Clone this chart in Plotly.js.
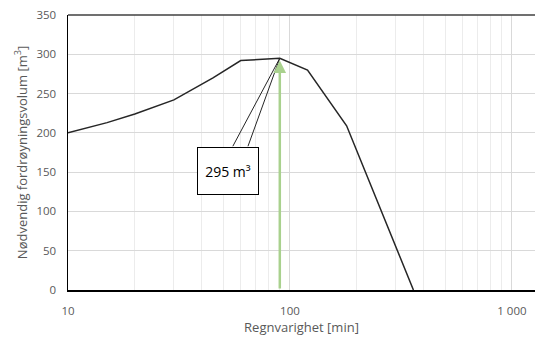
<!DOCTYPE html>
<html><head><meta charset="utf-8">
<script src="https://cdn.plot.ly/plotly-3.0.1.min.js"></script>
<style>html,body{margin:0;padding:0;background:#fff}#c{width:535px;height:338px}</style>
</head><body><div id="c"></div>
<script>
var durations = [10, 15, 20, 30, 45, 60, 90, 120, 180, 360];
var volumes = [200, 213, 224, 242, 270, 292, 295, 280, 209, 0];
var peakX = 90, peakY = 295;
var labelText = "295 m³";
var labelX = 52.6, labelY = 152;
var calloutX = [55.3, 90, 64.7];
var calloutY = [183, 295, 183];
var majorTicks = [10, 100, 1000];
var majorText = ["10", "100", "1 000"];
var minorTicks = [20,30,40,50,60,70,80,90,200,300,400,500,600,700,800,900];
var yTicks = [0,50,100,150,200,250,300,350];

var fontFam = "'Open Sans', 'Liberation Sans', sans-serif";
var traces = [
  {x: durations, y: volumes, mode: 'lines', line: {color: '#262626', width: 1.5}, hoverinfo: 'skip'},
  {x: calloutX, y: calloutY, mode: 'lines', line: {color: '#262626', width: 1}, hoverinfo: 'skip'}
];
var layout = {
  width: 535, height: 338,
  margin: {l: 68, r: 0, t: 15, b: 48},
  showlegend: false,
  paper_bgcolor: '#fff', plot_bgcolor: '#fff',
  font: {family: fontFam, size: 11.5, color: '#595959'},
  xaxis: {
    type: 'log', range: [1, 3.104],
    tickmode: 'array', tickvals: majorTicks, ticktext: majorText,
    showgrid: true, gridcolor: '#d9d9d9', gridwidth: 1,
    minor: {tickmode: 'array', tickvals: minorTicks, showgrid: true, gridcolor: '#ececec', gridwidth: 1, ticks: ''},
    showline: true, linecolor: '#000', linewidth: 1.5, mirror: false,
    ticks: '', zeroline: false, ticklabelstandoff: 10,
    title: {text: 'Regnvarighet [min]', font: {size: 13, color: '#595959'}, standoff: 3}
  },
  yaxis: {
    range: [0, 350], tickvals: yTicks,
    showgrid: true, gridcolor: '#d9d9d9', gridwidth: 1,
    showline: true, linecolor: '#000', linewidth: 1.5,
    ticks: '', zeroline: false, ticklabelstandoff: 8,
    title: {text: 'Nødvendig fordrøyningsvolum [m<sup>3</sup>]', font: {size: 13, color: '#595959'}, standoff: 6}
  },
  shapes: [
    {type: 'line', xref: 'paper', yref: 'paper', x0: 0, x1: 1, y0: 1, y1: 1, line: {color: '#404040', width: 1.5}}
  ],
  annotations: [
    {x: Math.log10(peakX), y: peakY - 3, ax: Math.log10(peakX), ay: 0, axref: 'x', ayref: 'y', xref: 'x', yref: 'y',
     showarrow: true, arrowhead: 2, arrowsize: 1, arrowwidth: 2.5, arrowcolor: '#a9d18e', text: ''},
    {x: Math.log10(labelX), y: labelY, xref: 'x', yref: 'y', text: labelText, showarrow: false,
     bgcolor: '#fff', bordercolor: '#000', borderwidth: 1, width: 58, height: 44,
     font: {family: fontFam, size: 14, color: '#000'}}
  ]
};
Plotly.newPlot('c', traces, layout, {staticPlot: true, displayModeBar: false});
</script></body></html>
